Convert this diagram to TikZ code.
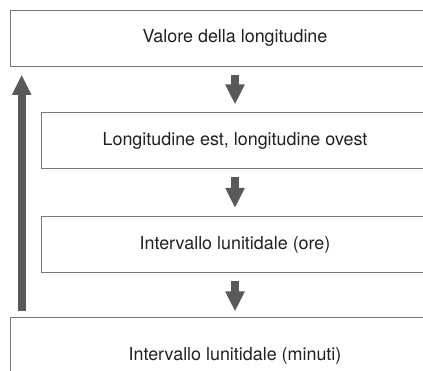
\documentclass[tikz,border=0pt]{standalone}
\usepackage{fontspec}
\setmainfont{TeX Gyre Heros}
\usetikzlibrary{arrows.meta}
\definecolor{boxgray}{HTML}{7A7A7A}
\definecolor{arrowgray}{HTML}{58595B}
\definecolor{txtgray}{HTML}{231F20}

\begin{document}
\begin{tikzpicture}[x=1pt,y=1pt,
  box/.style={draw=boxgray, line width=1pt, text=txtgray, font=\fontsize{17.9}{20}\selectfont, minimum height=56pt},
  flow/.style={draw=arrowgray, line width=8pt, -{Triangle[length=20pt,width=18pt]}, shorten <=8pt, shorten >=8pt}]

     \useasboundingbox (0,0) rectangle (423,371);
     \clip (0,0) rectangle (423,371);

     \node[box, minimum width=450pt] (Val) at (235,332.7) {Valore della longitudine};
     \node[box, minimum width=388pt] (Lon) at (235,230) {Longitudine est, longitudine ovest};
     \node[box, minimum width=388pt] (Ore) at (235,126.5) {Intervallo lunitidale (ore)};
     \node[box, minimum width=450pt, minimum height=76pt] (Min) at (235,15) {Intervallo lunitidale (minuti)};
     \coordinate (Up) at (21.7,0);

     \draw[flow] (Val.south) -- (Lon.north);
     \draw[flow] (Lon.south) -- (Ore.north);
     \draw[flow, shorten >=6pt] (Ore.south) -- (Min.north);
     \draw[flow, shorten <=6.5pt] (Up |- Min.north) -- (Up |- Val.south);

\end{tikzpicture}
\end{document}
